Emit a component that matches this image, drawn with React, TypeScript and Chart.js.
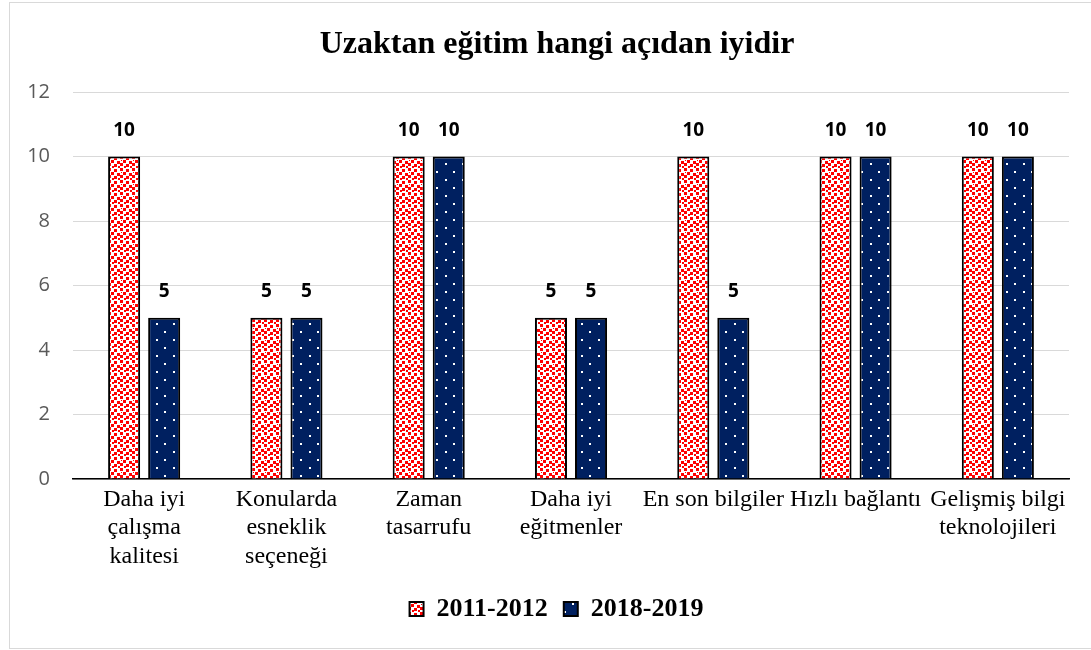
import React, { useEffect, useRef } from "react";
import { Chart, registerables } from "chart.js";

Chart.register(...registerables);

const title = "Uzaktan eğitim hangi açıdan iyidir";
const categories: (string | string[])[] = [
  ["Daha iyi", "çalışma", "kalitesi"],
  ["Konularda", "esneklik", "seçeneği"],
  ["Zaman", "tasarrufu"],
  ["Daha iyi", "eğitmenler"],
  "En son bilgiler",
  "Hızlı bağlantı",
  ["Gelişmiş bilgi", "teknolojileri"],
];
const series2011 = [10, 5, 10, 5, 10, 10, 10];
const series2018 = [5, 5, 10, 5, 5, 10, 10];
const seriesNames = ["2011-2012", "2018-2019"];
const yTicks = [0, 2, 4, 6, 8, 10, 12];

function makeRedPattern(ctx: CanvasRenderingContext2D): CanvasPattern | string {
  const c = document.createElement("canvas");
  c.width = 12;
  c.height = 12;
  const g = c.getContext("2d")!;
  g.fillStyle = "#ffffff";
  g.fillRect(0, 0, 12, 12);
  g.fillStyle = "#ff0000";
  const sq: [number, number, number][] = [
    [0, 0, 3], [6, 1, 3], [3, 4, 3], [9, 5, 3], [0, 7, 3], [6, 8, 3], [4, 10, 2], [10, 10, 2], [1, 4, 1],
  ];
  sq.forEach(([x, y, s]) => g.fillRect(x, y, s, s));
  return ctx.createPattern(c, "repeat") || "#ff0000";
}

function makeNavyPattern(ctx: CanvasRenderingContext2D): CanvasPattern | string {
  const c = document.createElement("canvas");
  c.width = 17;
  c.height = 16;
  const g = c.getContext("2d")!;
  g.fillStyle = "#002060";
  g.fillRect(0, 0, 17, 16);
  g.fillStyle = "#ffffff";
  g.fillRect(3, 3, 2, 2);
  g.fillRect(11, 11, 2, 2);
  return ctx.createPattern(c, "repeat") || "#002060";
}

const framePlugin = {
  id: "frame",
  beforeDraw(chart: any) {
    const ctx = chart.ctx;
    ctx.save();
    ctx.fillStyle = "#ffffff";
    ctx.fillRect(0, 0, chart.width, chart.height);
    ctx.strokeStyle = "#d9d9d9";
    ctx.lineWidth = 1;
    ctx.strokeRect(9.5, 2.5, chart.width + 10, chart.height - 4);
    ctx.restore();
  },
};

const legendShiftPlugin = {
  id: "legendShift",
  afterLayout(chart: any) {
    const lg = chart.legend;
    if (lg) {
      lg.left += 22;
      lg.right += 22;
      if (lg.legendHitBoxes) lg.legendHitBoxes.forEach((h: any) => (h.left += 22));
    }
  },
};

const titlePlugin = {
  id: "customTitle",
  afterDraw(chart: any) {
    const ctx = chart.ctx;
    ctx.save();
    ctx.font = "bold 32px 'Liberation Serif', 'Times New Roman', serif";
    ctx.fillStyle = "#000000";
    ctx.textAlign = "center";
    ctx.textBaseline = "middle";
    ctx.fillText(title, 557, 45);
    ctx.restore();
  },
};

const valueLabelPlugin = {
  id: "valueLabels",
  afterDatasetsDraw(chart: any) {
    const ctx = chart.ctx;
    ctx.save();
    ctx.font = "bold 19px 'Open Sans', 'Liberation Sans', sans-serif";
    ctx.fillStyle = "#000000";
    ctx.textAlign = "center";
    ctx.textBaseline = "middle";
    chart.data.datasets.forEach((ds: any, i: number) => {
      const meta = chart.getDatasetMeta(i);
      meta.data.forEach((bar: any, j: number) => {
        ctx.fillText(String(ds.data[j]), bar.x, bar.y - 26);
      });
    });
    ctx.restore();
  },
};

export default function App() {
  const ref = useRef<HTMLCanvasElement | null>(null);
  useEffect(() => {
    const canvas = ref.current!;
    const ctx = canvas.getContext("2d")!;
    const red = makeRedPattern(ctx);
    const navy = makeNavyPattern(ctx);
    const chart = new Chart(canvas, {
      type: "bar",
      data: {
        labels: categories,
        datasets: [
          {
            label: seriesNames[0],
            data: series2011,
            backgroundColor: red as any,
            borderColor: "#000000",
            borderWidth: 2,
            categoryPercentage: 0.563,
            barPercentage: 0.8,
          },
          {
            label: seriesNames[1],
            data: series2018,
            backgroundColor: navy as any,
            borderColor: "#000000",
            borderWidth: 2,
            categoryPercentage: 0.563,
            barPercentage: 0.8,
          },
        ],
      },
      options: {
        animation: false,
        responsive: false,
        layout: { padding: { left: 0, right: 22, top: 92, bottom: 18 } },
        plugins: {
          title: { display: false },
          legend: {
            display: true,
            position: "bottom",
            labels: {
              color: "#000000",
              font: { family: "'Liberation Serif', 'Times New Roman', serif", size: 26, weight: "bold" },
              boxWidth: 14,
              boxHeight: 14,
              padding: 16,
            },
          },
          tooltip: { enabled: false },
        },
        scales: {
          x: {
            grid: { display: false, drawTicks: false },
            border: { display: true, color: "#000000", width: 1.5 },
            ticks: {
              color: "#000000",
              font: { family: "'Liberation Serif', 'Times New Roman', serif", size: 24, lineHeight: 1.2 },
              maxRotation: 0,
              minRotation: 0,
              autoSkip: false,
              padding: 6,
            },
            afterFit(scale: any) {
              scale.height = 101;
            },
          },
          y: {
            min: 0,
            max: 12,
            afterBuildTicks(scale: any) {
              scale.ticks = yTicks.map((v) => ({ value: v }));
            },
            grid: { color: "#d9d9d9", lineWidth: 1, drawTicks: false },
            border: { display: false },
            ticks: {
              color: "#595959",
              font: { family: "'Open Sans', 'Liberation Sans', sans-serif", size: 20 },
              padding: 23,
            },
            afterFit(scale: any) {
              scale.width = 73;
            },
          },
        },
      },
      plugins: [framePlugin, legendShiftPlugin, valueLabelPlugin, titlePlugin],
    });
    return () => chart.destroy();
  }, []);
  return (
    <div style={{ position: "fixed", left: 0, top: 0, width: 1091, height: 650 }}>
      <canvas ref={ref} width={1091} height={650} style={{ display: "block" }} />
    </div>
  );
}
